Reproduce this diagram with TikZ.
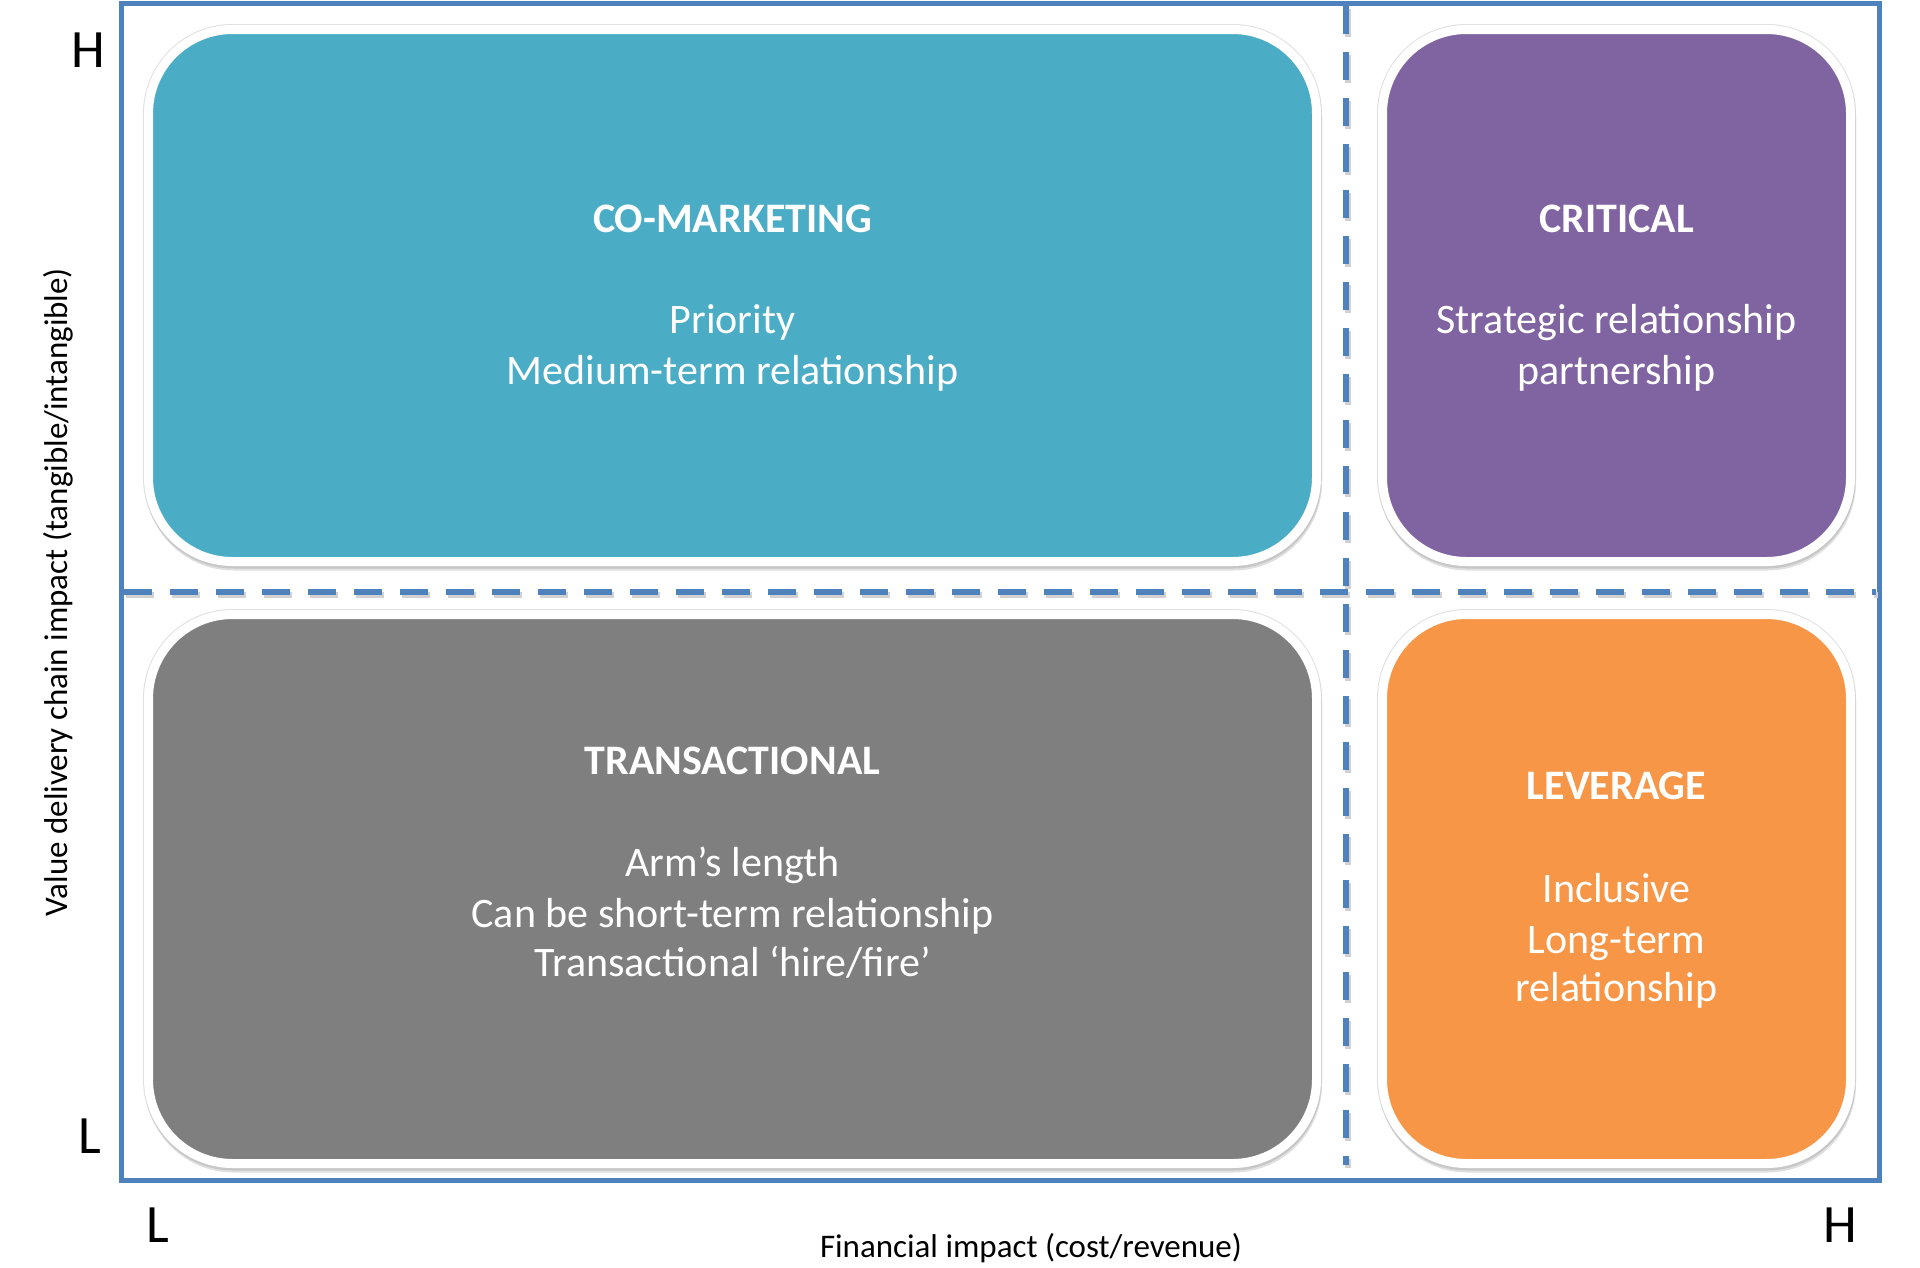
\documentclass[tikz,border=0pt]{standalone}
\usepackage{fontspec}
\setmainfont{Carlito}
\definecolor{frameblue}{HTML}{4F81BD}
\definecolor{qteal}{HTML}{4BACC6}
\definecolor{qpurple}{HTML}{8064A2}
\definecolor{qgray}{HTML}{7F7F7F}
\definecolor{qorange}{HTML}{F79646}
\begin{document}
\begin{tikzpicture}[x=1pt,y=-1pt,
  quad/.style={rectangle, rounded corners=84pt, inner sep=0pt, draw=white, line width=9pt,
    preaction={draw=black!12, line width=11pt},
    preaction={draw=black!12, fill=black!12, line width=9pt, transform canvas={xshift=1pt,yshift=-4.5pt}},
    preaction={draw=black!22, fill=black!22, line width=9pt, transform canvas={xshift=0.5pt,yshift=-2.5pt}}},
  title/.style={text=white, anchor=base, inner sep=0pt, font=\fontsize{42}{51}\selectfont\bfseries},
  body/.style={text=white, anchor=base, inner sep=0pt, font=\fontsize{42}{51}\selectfont},
  axislet/.style={text=black, anchor=base, inner sep=0pt, font=\fontsize{54}{60}\selectfont},
  axislab/.style={text=black, anchor=base, inner sep=0pt, font=\fontsize{33}{38}\selectfont},
  shadowline/.style={draw=black!18, line width=6pt, dash pattern=on 28pt off 18pt},
  dashline/.style={draw=frameblue, line width=6pt, dash pattern=on 28pt off 18pt},
  framebox/.style={draw=frameblue, line width=5pt}]
\useasboundingbox (0,0) rectangle (1920,1267);
\fill[white] (0,0) rectangle (1920,1267);

% frame
\coordinate (ftl) at (121,3);
\coordinate (fbr) at (1879,1180);
\draw[framebox] (ftl) rectangle (fbr);

% quadrant boxes
\node[quad, fill=qteal,   minimum width=1168pt, minimum height=532pt] (cm) at (732.5,295.5) {};
\node[quad, fill=qpurple, minimum width=468pt,  minimum height=532pt] (cr) at (1616.5,295.5) {};
\node[quad, fill=qgray,   minimum width=1168pt, minimum height=549pt] (tr) at (732.5,889) {};
\node[quad, fill=qorange, minimum width=468pt,  minimum height=549pt] (lv) at (1616.5,889) {};

% dashed dividers
\coordinate (vtop) at (1346,6);
\coordinate (vbot) at (1346,1165);
\coordinate (hl) at (124,592);
\coordinate (hr) at (1876,592);
\coordinate (vtops) at (1347.5,8.5);
\coordinate (vbots) at (1347.5,1167.5);
\coordinate (hls) at (125.5,594.5);
\coordinate (hrs) at (1877.5,594.5);
\draw[shadowline] (vtops) -- (vbots);
\draw[shadowline] (hls) -- (hrs);
\draw[dashline] (vtop) -- (vbot);
\draw[dashline] (hl) -- (hr);

% texts
\node[title] (cmt) at (732.5,232) {CO-MARKETING};
\node[body]  (cm1) at (732.5,333) {Priority};
\node[body]  (cm2) at (732.5,384) {Medium-term relationship};

\node[title] (crt) at (1616.5,232) {CRITICAL};
\node[body]  (cr1) at (1616.5,333) {Strategic relationship};
\node[body]  (cr2) at (1616.5,384) {partnership};

\node[title] (trt) at (732.5,774) {TRANSACTIONAL};
\node[body]  (tr1) at (732.5,876) {Arm’s length};
\node[body]  (tr2) at (732.5,927) {Can be short-term relationship};
\node[body]  (tr3) at (732.5,976) {Transactional ‘hire/fire’};

\node[title] (lvt) at (1616.5,799) {LEVERAGE};
\node[body]  (lv1) at (1616.5,902) {Inclusive};
\node[body]  (lv2) at (1616.5,953) {Long-term};
\node[body]  (lv3) at (1616.5,1001) {relationship};

% axis letters and labels
\node[axislet] (yh) at (88,67) {H};
\node[axislet] (yl) at (90,1153) {L};
\node[axislet] (xl) at (158,1242) {L};
\node[axislet] (xh) at (1840,1242) {H};
\node[axislab] (xlab) at (1031,1257) {Financial impact (cost/revenue)};
\node[axislab, rotate=90] (ylab) at (67,592) {Value delivery chain impact (tangible/intangible)};
\end{tikzpicture}
\end{document}
